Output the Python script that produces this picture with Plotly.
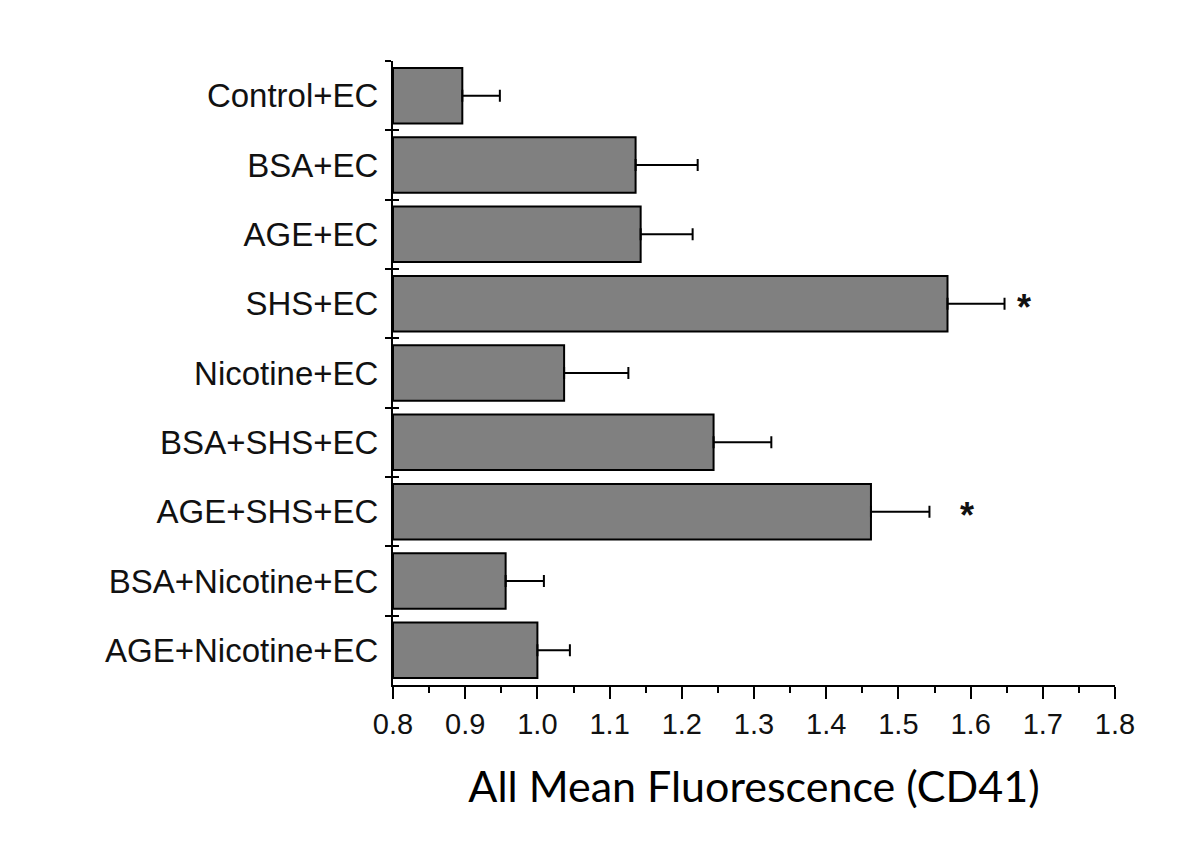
import plotly.graph_objects as go

categories = ["Control+EC", "BSA+EC", "AGE+EC", "SHS+EC", "Nicotine+EC",
              "BSA+SHS+EC", "AGE+SHS+EC", "BSA+Nicotine+EC", "AGE+Nicotine+EC"]
means = [0.896, 1.136, 1.143, 1.568, 1.037, 1.244, 1.462, 0.956, 1.000]
errors = [0.052, 0.086, 0.072, 0.079, 0.089, 0.080, 0.081, 0.053, 0.045]
significant = ["SHS+EC", "AGE+SHS+EC"]
star_shift = [19, 38]
x_ticks = [0.8, 0.9, 1.0, 1.1, 1.2, 1.3, 1.4, 1.5, 1.6, 1.7, 1.8]
x_title = "All Mean Fluorescence (CD41)"

base = 0.8
fig = go.Figure()
fig.add_trace(go.Bar(
    y=categories, x=[m - base for m in means], base=base, orientation="h",
    width=0.8,
    marker=dict(color="#808080", line=dict(color="black", width=2)),
    error_x=dict(type="data", array=errors, arrayminus=[0] * len(errors),
                 symmetric=False, color="black", thickness=2, width=6),
    showlegend=False, hoverinfo="skip",
))
# invisible trace to activate the mirrored tick axis
fig.add_trace(go.Scatter(
    y=categories, x=means, yaxis="y2", mode="markers",
    marker=dict(opacity=0), showlegend=False, hoverinfo="skip",
))

for cat, sh in zip(significant, star_shift):
    i = categories.index(cat)
    fig.add_annotation(x=means[i] + errors[i], y=cat, text="<b>*</b>", showarrow=False,
                       xanchor="center", yanchor="middle", xshift=sh, yshift=-4,
                       font=dict(family="Liberation Sans, Arial", size=36, color="#111"))

fig.update_layout(
    width=1200, height=859,
    margin=dict(l=385, r=93, t=53, b=182),
    paper_bgcolor="white", plot_bgcolor="white",
    bargap=0.2,
    xaxis=dict(
        range=[x_ticks[0], x_ticks[-1]], tickvals=x_ticks,
        ticktext=[f"{v:.1f}" for v in x_ticks],
        ticks="outside", ticklen=12, tickwidth=2, tickcolor="black",
        minor=dict(dtick=0.05, ticks="outside", ticklen=6, tickwidth=2, tickcolor="black"),
        showline=True, linecolor="black", linewidth=2, mirror=False,
        showgrid=False, zeroline=False, ticklabelstandoff=0,
        tickfont=dict(family="Liberation Sans, Arial", size=29, color="#111"),
        title=dict(text=x_title, standoff=33,
                   font=dict(family="Lato, Open Sans", size=43, color="black")),
    ),
    yaxis=dict(
        type="category", categoryorder="array", categoryarray=categories,
        range=[len(categories) - 0.5, -0.5],
        tickson="boundaries", ticks="outside", ticklen=6, tickwidth=2, tickcolor="black",
        showline=True, linecolor="black", linewidth=2,
        showgrid=False, zeroline=False, ticklabelstandoff=6,
        tickfont=dict(family="Liberation Sans, Arial", size=33, color="#111"),
    ),
    yaxis2=dict(
        type="category", categoryorder="array", categoryarray=categories,
        range=[len(categories) - 0.5, -0.5], overlaying="y", side="left",
        tickson="boundaries", ticks="inside", ticklen=6, tickwidth=2, tickcolor="black",
        showticklabels=False, showline=False, showgrid=False, zeroline=False,
    ),
)

fig.write_html("out.html")
